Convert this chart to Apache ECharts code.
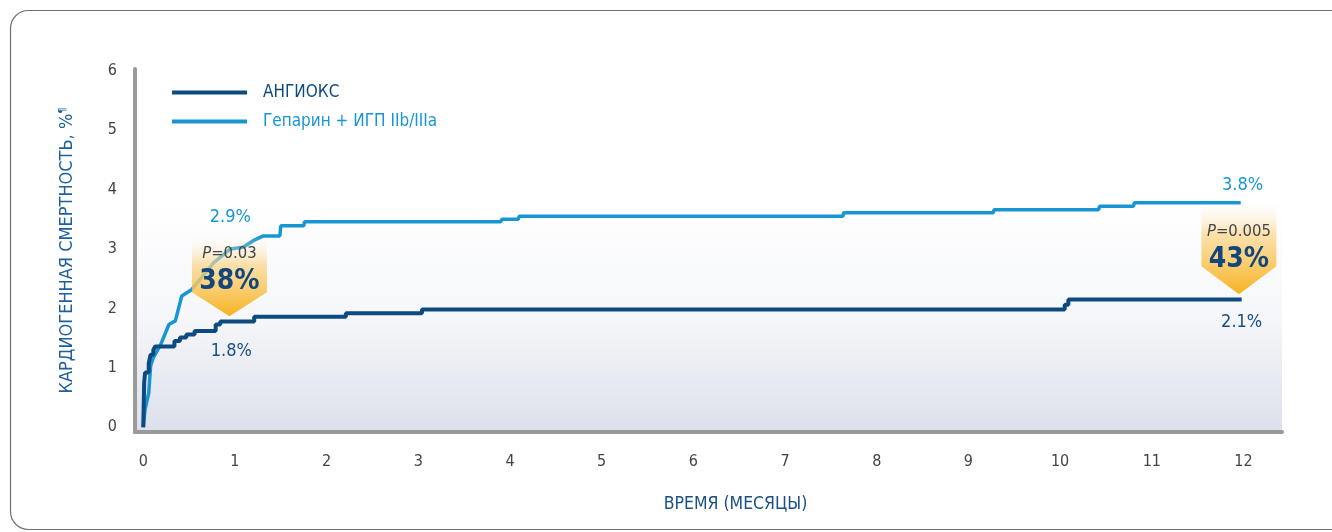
<!DOCTYPE html>
<html><head><meta charset="utf-8">
<script src="https://cdn.jsdelivr.net/npm/echarts@6/dist/echarts.min.js"></script>
<style>html,body{margin:0;padding:0;background:#fff;}#c{width:1332px;height:532px;}</style>
</head><body><div id="c"></div>
<script>
// ---- data ----
const seriesNames = ['АНГИОКС', 'Гепарин + ИГП IIb/IIIa'];
// АНГИОКС: Kaplan–Meier steps (time in months, cumulative %)
const angioxT = [0, 0.01, 0.02, 0.06, 0.08, 0.11, 0.13, 0.34, 0.40, 0.47, 0.56, 0.79, 0.84, 1.21, 2.21, 3.04, 10.05, 10.09, 11.98];
const angioxV = [0, 0.75, 0.92, 1.08, 1.22, 1.30, 1.36, 1.45, 1.51, 1.56, 1.62, 1.73, 1.78, 1.86, 1.92, 1.98, 2.06, 2.15, 2.15];
// Гепарин + ИГП IIb/IIIa: curve vertices
const heparinT = [0, 0.02, 0.06, 0.08, 0.11, 0.19, 0.28, 0.35, 0.42, 0.53, 0.77, 0.95, 1.09, 1.20, 1.31, 1.49, 1.50, 1.75, 1.76, 3.90, 3.91, 4.09, 4.10, 7.63, 7.64, 9.27, 9.28, 10.42, 10.43, 10.80, 10.81, 11.97];
const heparinV = [0, 0.30, 0.58, 1.03, 1.17, 1.39, 1.73, 1.79, 2.21, 2.32, 2.77, 3.00, 3.03, 3.14, 3.22, 3.22, 3.39, 3.39, 3.46, 3.46, 3.50, 3.50, 3.55, 3.55, 3.61, 3.61, 3.66, 3.66, 3.72, 3.72, 3.78, 3.78];
const xTicks = [0, 1, 2, 3, 4, 5, 6, 7, 8, 9, 10, 11, 12];
const yTicks = [0, 1, 2, 3, 4, 5, 6];
// annotations
const calloutPoints = [[0.94, 1.87], [11.95, 2.24]];
const calloutP = ['0.03', '0.005'];
const calloutPct = ['38%', '43%'];
const endLabels = ['2.9%', '1.8%', '3.8%', '2.1%'];
const endLabelAt = [[0.95, 3.53], [0.96, 1.27], [11.99, 4.07], [11.98, 1.77]];

const DARK = '#0c4a80', LIGHT = '#1896d4';
const FONT = '"DejaVu Sans Condensed","Liberation Sans Narrow","DejaVu Sans",sans-serif';

const chart = echarts.init(document.getElementById('c'), null, {renderer: 'canvas'});
const zip = (a, b) => a.map((t, i) => [t, b[i]]);

chart.setOption({
  animation: false,
  textStyle: {fontFamily: FONT},
  grid: {
    left: 135, right: 50, top: 69, bottom: 100, show: true, borderWidth: 0,
    backgroundColor: new echarts.graphic.LinearGradient(0, 0, 0, 1, [
      {offset: 0, color: '#ffffff'}, {offset: 0.36, color: '#ffffff'},
      {offset: 0.68, color: '#f6f7fa'}, {offset: 1, color: '#dce0ea'}
    ])
  },
  legend: {
    orient: 'vertical', left: 172, top: 84, padding: 0, itemWidth: 75, itemHeight: 4, itemGap: 12, icon: 'rect',
    textStyle: {fontSize: 17, fontFamily: FONT, padding: [0, 0, 0, 11]},
    data: [
      {name: seriesNames[0], textStyle: {color: DARK}},
      {name: seriesNames[1], textStyle: {color: LIGHT}}
    ]
  },
  xAxis: {
    type: 'value', min: -0.09, max: 12.42,
    axisLine: {show: true, onZero: false, lineStyle: {color: '#9a9a9a', width: 4}},
    axisTick: {show: false}, splitLine: {show: false},
    axisLabel: {customValues: xTicks, color: '#444', fontSize: 16, margin: 22, fontFamily: FONT},
    name: 'ВРЕМЯ (МЕСЯЦЫ)', nameLocation: 'middle', nameGap: 63,
    nameTextStyle: {color: '#1c4f86', fontSize: 17.5, padding: [0, 0, 0, 54], fontFamily: FONT}
  },
  yAxis: {
    type: 'value', min: -0.08, max: 6.03,
    axisLine: {show: true, onZero: false, lineStyle: {color: '#9a9a9a', width: 4}},
    axisTick: {show: false}, splitLine: {show: false},
    axisLabel: {customValues: yTicks, color: '#444', fontSize: 16, margin: 18, fontFamily: FONT},
    name: '{a|КАРДИОГЕННАЯ СМЕРТНОСТЬ, %}{b|¶}', nameLocation: 'middle', nameGap: 59,
    nameTextStyle: {rich: {
      a: {color: '#1f5f9a', fontSize: 18, fontFamily: FONT},
      b: {color: '#1f5f9a', fontSize: 11, fontFamily: FONT, verticalAlign: 'top', padding: [0, 0, 7, 0]}
    }}
  },
  series: [
    {name: seriesNames[1], type: 'line', data: zip(heparinT, heparinV), showSymbol: false, symbol: 'none',
     lineStyle: {color: LIGHT, width: 3.5}, itemStyle: {color: LIGHT}, z: 3},
    {name: seriesNames[0], type: 'line', step: 'end', data: zip(angioxT, angioxV), showSymbol: false, symbol: 'none',
     lineStyle: {color: DARK, width: 4}, itemStyle: {color: DARK}, z: 4}
  ]
});

// annotations positioned from data coordinates
const px = p => chart.convertToPixel({xAxisIndex: 0, yAxisIndex: 0}, p);
const graphics = [];
// outer rounded frame
graphics.push({type: 'rect', shape: {x: 10.5, y: 10.5, width: 1345, height: 519, r: 18},
  style: {fill: 'none', stroke: '#707070', lineWidth: 1.2}, z: 0, silent: true});
const boxH = [80, 92], shoulder = [24, 28], halfW = 37.5;
calloutPoints.forEach((p, i) => {
  const [tx, ty] = px(p);
  graphics.push({
    type: 'polygon', z: 50,
    shape: {points: [[tx - halfW, ty - boxH[i]], [tx + halfW, ty - boxH[i]], [tx + halfW, ty - shoulder[i]], [tx, ty], [tx - halfW, ty - shoulder[i]]]},
    style: {fill: new echarts.graphic.LinearGradient(0, 0, 0, 1, [
      {offset: 0, color: 'rgba(253,243,225,0)'},
      {offset: 0.35, color: 'rgba(251,214,140,0.72)'},
      {offset: 1, color: 'rgba(247,176,24,0.96)'}
    ])}
  });
  graphics.push({type: 'text', z: 51, x: tx, y: ty - 62,
    style: {text: '{i|P}{n|=' + calloutP[i] + '}', align: 'center', verticalAlign: 'middle',
      rich: {i: {fontStyle: 'italic', fontSize: 16.5, fill: '#444', fontFamily: FONT},
             n: {fontSize: 16.5, fill: '#444', fontFamily: FONT}}}});
  graphics.push({type: 'text', z: 51, x: tx, y: ty - 34,
    style: {text: calloutPct[i], align: 'center', verticalAlign: 'middle', fontSize: 28, fontWeight: 'bold',
      fill: '#13467c', fontFamily: FONT}});
});
endLabels.forEach((t, i) => {
  const [x, y] = px(endLabelAt[i]);
  graphics.push({type: 'text', z: 52, x: x, y: y,
    style: {text: t, align: 'center', verticalAlign: 'middle', fontSize: 18,
      fill: (i % 2 === 0) ? LIGHT : '#174d84', fontFamily: FONT}});
});
chart.setOption({graphic: graphics});
</script>
</body></html>
